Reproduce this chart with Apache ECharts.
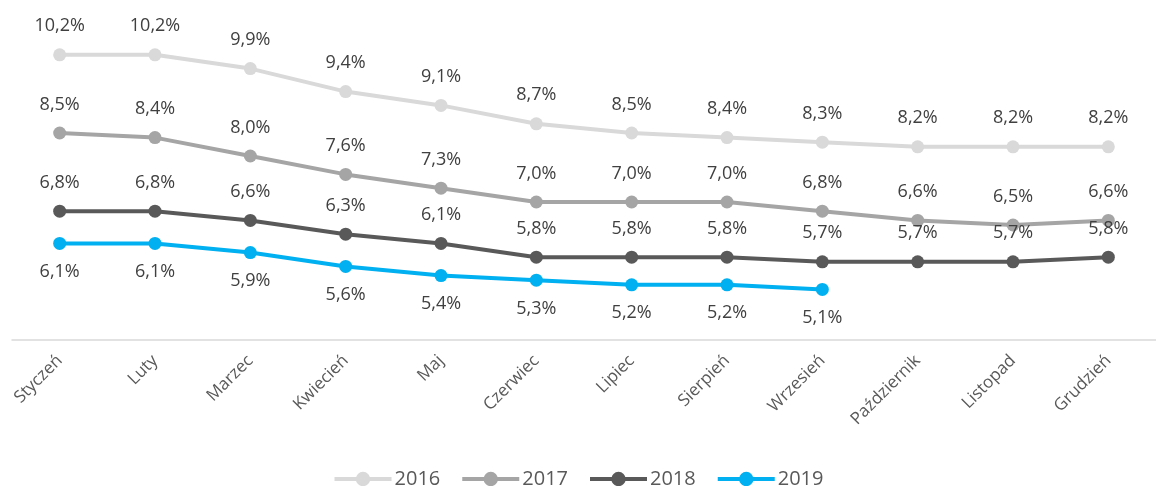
<!DOCTYPE html>
<html lang="pl">
<head>
  <meta charset="UTF-8">
  <title>Stopa bezrobocia</title>
  <style>
    html, body { margin: 0; padding: 0; background: #fff; }
    #main { width: 1156px; height: 486px; }
  </style>
</head>
<body>
  <div id="main"></div>
  <script src="https://cdn.jsdelivr.net/npm/echarts@6/dist/echarts.min.js"></script>
  <script>
    // miesiące
    var months = ['Styczeń', 'Luty', 'Marzec', 'Kwiecień', 'Maj', 'Czerwiec',
                  'Lipiec', 'Sierpień', 'Wrzesień', 'Październik', 'Listopad', 'Grudzień'];

    // wartości w %
    var y2016 = [10.2, 10.2, 9.9, 9.4, 9.1, 8.7, 8.5, 8.4, 8.3, 8.2, 8.2, 8.2];
    var y2017 = [8.5, 8.4, 8.0, 7.6, 7.3, 7.0, 7.0, 7.0, 6.8, 6.6, 6.5, 6.6];
    var y2018 = [6.8, 6.8, 6.6, 6.3, 6.1, 5.8, 5.8, 5.8, 5.7, 5.7, 5.7, 5.8];
    var y2019 = [6.1, 6.1, 5.9, 5.6, 5.4, 5.3, 5.2, 5.2, 5.1];

    var font = 'Open Sans';

    function fmt(p) {
      return p.value.toFixed(1).replace('.', ',') + '%';
    }

    function makeSeries(name, data, color, pos) {
      return {
        name: name,
        type: 'line',
        data: data,
        symbol: 'circle',
        symbolSize: 13,
        lineStyle: { width: 4, color: color },
        itemStyle: { color: color },
        label: {
          show: true,
          position: pos,
          distance: 13,
          formatter: fmt,
          color: '#404040',
          fontFamily: font,
          fontSize: 18
        },
        emphasis: { disabled: true },
        animation: false
      };
    }

    var myChart = echarts.init(document.getElementById('main'));

    var option = {
      grid: { left: 12, top: 18, width: 1151, bottom: 146 },
      legend: {
        top: 464,
        left: 'center',
        itemWidth: 57,
        itemHeight: 18,
        itemGap: 20,
        lineStyle: { width: 4 },
        textStyle: { fontFamily: font, fontSize: 20, color: '#595959', padding: [0, 0, 0, -2] },
        data: ['2016', '2017', '2018', '2019']
      },
      xAxis: {
        type: 'category',
        data: months,
        boundaryGap: true,
        axisLine: { lineStyle: { color: '#d9d9d9', width: 1.5 } },
        axisTick: { show: false },
        axisLabel: {
          rotate: 45,
          interval: 0,
          margin: 18,
          color: '#595959',
          fontFamily: font,
          fontSize: 17
        }
      },
      yAxis: {
        type: 'value',
        min: 4,
        max: 11,
        show: false,
        splitLine: { show: false }
      },
      series: [
        makeSeries('2016', y2016, '#d9d9d9', 'top'),
        makeSeries('2017', y2017, '#a5a5a5', 'top'),
        makeSeries('2018', y2018, '#595959', 'top'),
        makeSeries('2019', y2019, '#00b0f0', 'bottom')
      ]
    };

    myChart.setOption(option);
  </script>
</body>
</html>
